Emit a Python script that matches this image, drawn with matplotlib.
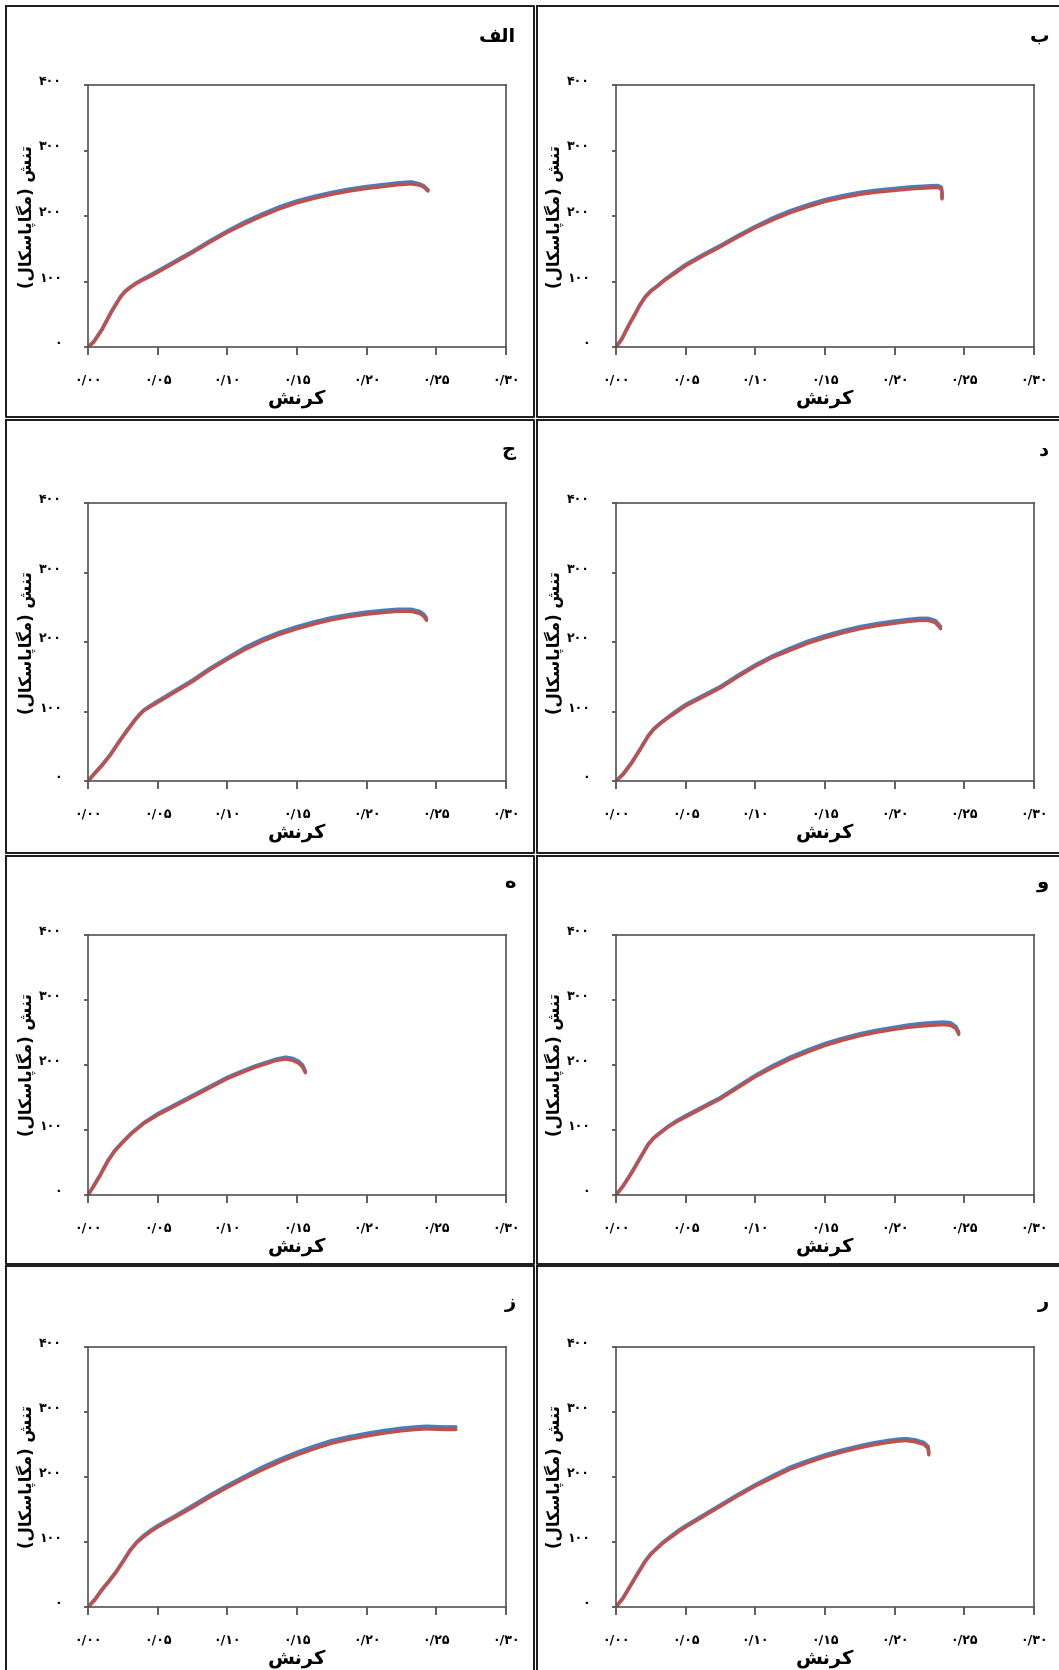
import matplotlib
matplotlib.use("Agg")
import matplotlib.pyplot as plt
from matplotlib.lines import Line2D
from matplotlib.transforms import ScaledTranslation

# ---- data (strain, stress MPa) ----
STRAIN_A = [0.000, 0.004, 0.010, 0.017, 0.023, 0.0265, 0.030, 0.034, 0.038, 0.044, 0.050, 0.0625,
            0.075, 0.0875, 0.100, 0.1125, 0.125, 0.1375, 0.150, 0.1625, 0.175, 0.1875, 0.200,
            0.2125, 0.222, 0.232, 0.238, 0.241, 0.244]
STRESS_A_BLUE = [0, 8, 27, 55, 76, 85, 91, 97, 102, 109, 116, 131, 146, 162, 177, 191, 203, 214,
                 223, 230, 236, 241, 245, 248, 250.5, 252, 249, 246, 240]
STRESS_A_RED = [0, 7, 26, 54, 75, 84, 90, 96, 101, 107, 114, 129, 144, 160, 175, 188, 200, 211,
                220, 227, 233, 238, 242, 245, 247.5, 249, 247, 244, 238]

STRAIN_B = [0.000, 0.004, 0.009, 0.014, 0.017, 0.021, 0.025, 0.030, 0.035, 0.042, 0.050, 0.0625,
            0.075, 0.0875, 0.100, 0.1125, 0.125, 0.1375, 0.150, 0.1625, 0.175, 0.1875, 0.200,
            0.2125, 0.225, 0.231, 0.2335, 0.234, 0.234]
STRESS_B_BLUE = [0, 12, 33, 52, 64, 77, 86, 94, 103, 114, 126, 141, 155, 170, 184, 197, 208, 217,
                 225, 231, 236, 239.5, 242, 244.5, 246, 246.5, 244, 236, 228]
STRESS_B_RED = [0, 11, 32, 51, 63, 76, 85, 93, 102, 112, 124, 139, 153, 168, 182, 194, 205, 214,
                222, 228, 233, 236.5, 239, 241.5, 243, 243.5, 241, 234, 226]

STRAIN_C = [0.000, 0.005, 0.010, 0.016, 0.022, 0.028, 0.034, 0.037, 0.040, 0.044, 0.050, 0.0625,
            0.075, 0.0875, 0.100, 0.1125, 0.125, 0.1375, 0.150, 0.1625, 0.175, 0.1875, 0.200,
            0.2125, 0.222, 0.232, 0.238, 0.241, 0.243]
STRESS_C_BLUE = [0, 12, 23, 38, 56, 73, 89, 96, 102, 107.5, 115, 130, 145, 162, 177, 192, 204, 214,
                 222, 229, 235, 239.5, 243, 245.5, 247, 247, 244, 240, 234]
STRESS_C_RED = [0, 11, 22, 37, 55, 72, 88, 95, 101, 106, 113, 128, 143, 160, 175, 189, 201, 211,
                219, 226, 232, 236.5, 240, 242.5, 244, 244, 241, 237, 231]

STRAIN_D = [0.000, 0.005, 0.011, 0.017, 0.023, 0.027, 0.031, 0.036, 0.042, 0.050, 0.0625, 0.075,
            0.0875, 0.100, 0.1125, 0.125, 0.1375, 0.150, 0.1625, 0.175, 0.1875, 0.200, 0.210,
            0.218, 0.224, 0.229, 0.231, 0.233]
STRESS_D_BLUE = [0, 10, 26, 45, 65, 75, 82, 90, 99, 110, 123, 136, 152, 167, 180, 191, 201, 209,
                 216, 222, 226.5, 230, 232.5, 234, 234, 231, 227, 222]
STRESS_D_RED = [0, 9, 25, 44, 64, 74, 81, 89, 97, 108, 121, 134, 150, 165, 178, 188, 198, 206,
                213, 219, 223.5, 227, 229.5, 231, 231, 228, 224, 219]

STRAIN_E = [0.000, 0.004, 0.009, 0.014, 0.019, 0.025, 0.031, 0.040, 0.050, 0.0625, 0.075, 0.0875,
            0.100, 0.110, 0.120, 0.128, 0.135, 0.142, 0.147, 0.151, 0.154, 0.156]
STRESS_E_BLUE = [0, 14, 32, 52, 68, 82, 95, 111, 125, 139, 153, 167, 181, 190, 198.5, 204, 209,
                 212, 210, 206, 200, 190]
STRESS_E_RED = [0, 13, 31, 51, 67, 81, 94, 110, 123, 137, 151, 165, 179, 188, 196.5, 202, 207,
                209, 207, 203, 197, 188]

STRAIN_F = [0.000, 0.005, 0.011, 0.017, 0.023, 0.027, 0.031, 0.037, 0.043, 0.050, 0.0625, 0.075,
            0.0875, 0.100, 0.1125, 0.125, 0.1375, 0.150, 0.1625, 0.175, 0.1875, 0.200, 0.210,
            0.220, 0.230, 0.235, 0.240, 0.244, 0.246]
STRESS_F_BLUE = [0, 14, 34, 56, 78, 88, 95, 105, 113.5, 122, 136, 150, 167, 184, 199, 212, 223,
                 233, 241, 248, 253.5, 258, 261.5, 264, 265.5, 266, 265, 259, 250]
STRESS_F_RED = [0, 13, 33, 55, 77, 87, 94, 104, 112, 120, 134, 148, 165, 182, 196, 209, 220, 230,
                238, 245, 250.5, 255, 258, 260, 261.5, 262, 261, 256, 247]

STRAIN_G = [0.000, 0.005, 0.010, 0.015, 0.020, 0.025, 0.030, 0.035, 0.040, 0.045, 0.050, 0.0625,
            0.075, 0.0875, 0.100, 0.1125, 0.125, 0.1375, 0.150, 0.1625, 0.175, 0.1875, 0.200,
            0.2125, 0.225, 0.235, 0.243, 0.255, 0.264]
STRESS_G_BLUE = [0, 12, 27, 40, 54, 70, 87, 100, 110, 118, 125, 140, 156, 172, 187, 201, 215, 227,
                 238, 247.5, 256, 262, 267, 271.5, 275, 277, 278, 277, 277]
STRESS_G_RED = [0, 11, 26, 39, 53, 69, 86, 99, 108, 116, 123, 138, 153, 169, 184, 198, 211, 223,
                234, 243.5, 252, 258, 263, 267.5, 271, 273, 274, 273, 273]

STRAIN_H = [0.000, 0.005, 0.010, 0.015, 0.021, 0.025, 0.029, 0.034, 0.040, 0.045, 0.050, 0.0625,
            0.075, 0.0875, 0.100, 0.1125, 0.125, 0.1375, 0.150, 0.1625, 0.175, 0.185, 0.195,
            0.202, 0.208, 0.215, 0.221, 0.224, 0.2245]
STRESS_H_BLUE = [0, 14, 32, 50, 71, 82, 90, 100, 110, 118, 125, 141, 157, 173, 188, 202, 215, 225,
                 234, 241.5, 248, 252.5, 256, 258, 259, 257, 253, 247, 237]
STRESS_H_RED = [0, 13, 31, 49, 70, 81, 89, 99, 108, 116, 123, 139, 155, 171, 186, 199, 212, 222,
                231, 238.5, 245, 249.5, 253, 255, 256, 254, 250, 244, 234]

PANEL_LETTERS = ["الف", "ب", "ج", "د", "ه", "و", "ز", "ر"]
X_LABEL = "کرنش"
Y_LABEL = "تنش (مگاپاسکال)"
X_TICKS = [0.00, 0.05, 0.10, 0.15, 0.20, 0.25, 0.30]
Y_TICKS = [0, 100, 200, 300, 400]

PANELS = [
    (STRAIN_A, STRESS_A_BLUE, STRESS_A_RED),
    (STRAIN_B, STRESS_B_BLUE, STRESS_B_RED),
    (STRAIN_C, STRESS_C_BLUE, STRESS_C_RED),
    (STRAIN_D, STRESS_D_BLUE, STRESS_D_RED),
    (STRAIN_E, STRESS_E_BLUE, STRESS_E_RED),
    (STRAIN_F, STRESS_F_BLUE, STRESS_F_RED),
    (STRAIN_G, STRESS_G_BLUE, STRESS_G_RED),
    (STRAIN_H, STRESS_H_BLUE, STRESS_H_RED),
]

BLUE = "#4a7ebb"
RED = "#c0504d"

# Arabic-script shaping (matplotlib 3.10 draws glyphs unjoined and left-to-right)
# forms: isolated, final, initial, medial; None = letter does not join forward
FORMS = {
    "ا": ("\uFE8D", "\uFE8E", None, None),
    "ب": ("\uFE8F", "\uFE90", "\uFE91", "\uFE92"),
    "پ": ("\uFB56", "\uFB57", "\uFB58", "\uFB59"),
    "ت": ("\uFE95", "\uFE96", "\uFE97", "\uFE98"),
    "ج": ("\uFE9D", "\uFE9E", "\uFE9F", "\uFEA0"),
    "ح": ("\uFEA1", "\uFEA2", "\uFEA3", "\uFEA4"),
    "د": ("\uFEA9", "\uFEAA", None, None),
    "ر": ("\uFEAD", "\uFEAE", None, None),
    "ز": ("\uFEAF", "\uFEB0", None, None),
    "س": ("\uFEB1", "\uFEB2", "\uFEB3", "\uFEB4"),
    "ش": ("\uFEB5", "\uFEB6", "\uFEB7", "\uFEB8"),
    "ف": ("\uFED1", "\uFED2", "\uFED3", "\uFED4"),
    "ک": ("\uFB8E", "\uFB8F", "\uFB90", "\uFB91"),
    "گ": ("\uFB92", "\uFB93", "\uFB94", "\uFB95"),
    "ل": ("\uFEDD", "\uFEDE", "\uFEDF", "\uFEE0"),
    "م": ("\uFEE1", "\uFEE2", "\uFEE3", "\uFEE4"),
    "ن": ("\uFEE5", "\uFEE6", "\uFEE7", "\uFEE8"),
    "ه": ("\uFEE9", "\uFEEA", "\uFEEB", "\uFEEC"),
    "و": ("\uFEED", "\uFEEE", None, None),
}


def rtl(text):
    out = []
    for i, c in enumerate(text):
        if c not in FORMS:
            out.append(c)
            continue
        prev = text[i - 1] if i > 0 else None
        nxt = text[i + 1] if i + 1 < len(text) else None
        join_prev = prev in FORMS and FORMS[prev][2] is not None
        join_next = nxt in FORMS and FORMS[c][2] is not None
        isol, fina, init, medi = FORMS[c]
        if join_prev and join_next:
            out.append(medi)
        elif join_prev:
            out.append(fina)
        elif join_next:
            out.append(init)
        else:
            out.append(isol)
    s = "".join(out)[::-1]
    return s.translate(str.maketrans("()", ")("))


FA_DIGITS = str.maketrans("0123456789.", "۰۱۲۳۴۵۶۷۸۹/")


def fa_num(v, fmt):
    return format(v, fmt).translate(FA_DIGITS)


plt.rcParams["font.family"] = ["DejaVu Sans"]

W, H = 1059, 1670
fig = plt.figure(figsize=(W / 100, H / 100), dpi=100)


def fig_box(l, t, r, b):
    return [l / W, 1 - b / H, (r - l) / W, (b - t) / H]


COLS = [(88, 506), (616, 1034)]
ROWS = [(85, 347), (503, 781), (935, 1195), (1347, 1607)]
PANEL_COLS = [(6, 534), (537, 1070)]
PANEL_ROWS = [(6, 417), (420, 853), (856, 1264), (1266, 1680)]
LETTER_X = [516, 1049]
LETTER_Y = [36, 450, 882, 1302]

# panel frames
for r, (pt, pb) in enumerate(PANEL_ROWS):
    for c, (pl, pr) in enumerate(PANEL_COLS):
        xs = [pl / W, pr / W, pr / W, pl / W, pl / W]
        ys = [1 - pt / H, 1 - pt / H, 1 - pb / H, 1 - pb / H, 1 - pt / H]
        fig.add_artist(Line2D(xs, ys, transform=fig.transFigure, color="#1a1a1a", lw=1.4))

for idx, (strain, s_blue, s_red) in enumerate(PANELS):
    r, c = divmod(idx, 2)
    l, rgt = COLS[c]
    t, b = ROWS[r]
    ax = fig.add_axes(fig_box(l, t, rgt, b))
    ax.plot(strain, s_blue, color=BLUE, lw=2.6, solid_capstyle="round", solid_joinstyle="round")
    ax.plot(strain, s_red, color=RED, lw=2.4, solid_capstyle="round", solid_joinstyle="round")
    ax.set_xlim(0, 0.30)
    ax.set_ylim(0, 400)
    ax.set_xticks(X_TICKS)
    ax.set_yticks(Y_TICKS)
    ax.set_xticklabels([fa_num(v, ".2f") for v in X_TICKS], fontsize=9, fontweight="bold")
    ax.set_yticklabels([fa_num(v, "d") for v in Y_TICKS], fontsize=9, fontweight="bold")
    ax.tick_params(axis="x", direction="out", length=6, width=1.1, pad=13, colors="#333333",
                   labelcolor="black")
    ax.tick_params(axis="y", direction="out", length=3, width=1.1, pad=16, colors="#333333",
                   labelcolor="black")
    shift = ScaledTranslation(0, 0.05, fig.dpi_scale_trans)
    for lab in ax.get_yticklabels():
        lab.set_transform(lab.get_transform() + shift)
    for sp in ax.spines.values():
        sp.set_color("#555555")
        sp.set_linewidth(1.2)
    ax.set_xlabel(rtl(X_LABEL), fontsize=14, fontweight="bold", labelpad=2)
    ax.set_ylabel(rtl(Y_LABEL), fontsize=12, fontweight="bold", labelpad=2)

    fig.text(LETTER_X[c] / W, 1 - LETTER_Y[r] / H, rtl(PANEL_LETTERS[idx]),
             ha="right", va="center", fontsize=14, fontweight="bold")

fig.savefig("out.png", dpi=100, facecolor="white")
